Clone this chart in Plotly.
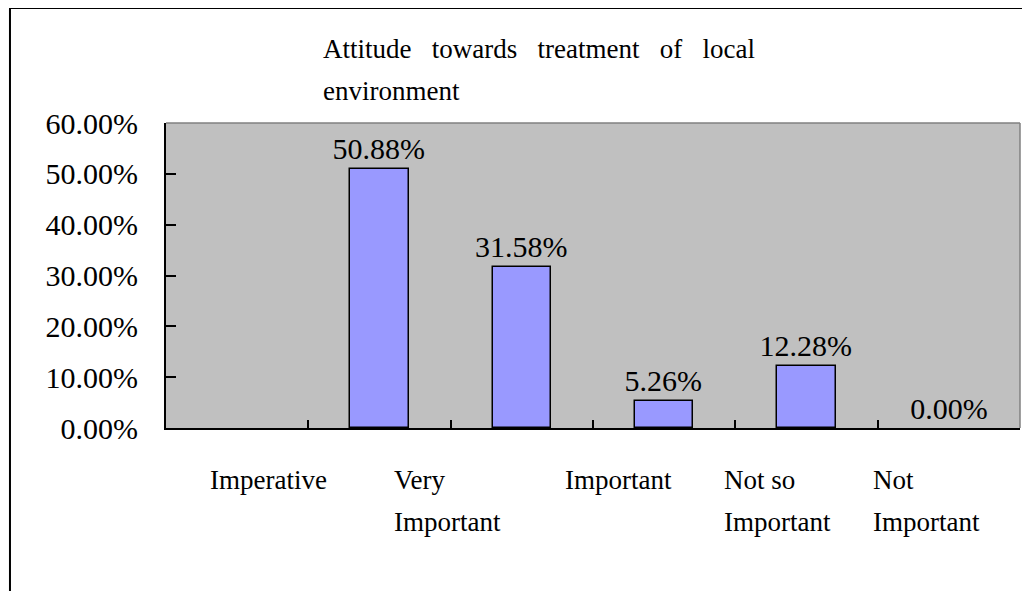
import plotly.graph_objects as go

# survey answers (share of respondents, %)
categories = ["Imperative", "Very\nImportant", "Important", "Not so\nImportant", "Not\nImportant"]
values = [50.88, 31.58, 5.26, 12.28, 0.00]
title_lines = ["Attitude towards treatment of local", "environment"]
y_ticks = [0, 10, 20, 30, 40, 50, 60]

SERIF = "Liberation Serif, Times New Roman, serif"

fig = go.Figure()

# the sheet draws the bars one slot to the right of their labels (first slot is empty)
fig.add_trace(go.Bar(
    x=[i + 1.5 for i in range(len(values))],
    y=values,
    width=0.41,
    marker=dict(color="#9999FF",
                line=dict(color="black", width=[1.5 if v > 0 else 0 for v in values])),
    texttemplate="%{y:.2f}%",
    textposition="outside",
    constraintext="none",
    textfont=dict(family=SERIF, size=30, color="black"),
    cliponaxis=False,
    hoverinfo="skip",
))

# category labels, left aligned like the original sheet
label_x = [0.295, 1.588, 2.789, 3.906, 4.953]
for lx, name in zip(label_x, categories):
    for k, line in enumerate(name.split("\n")):
        fig.add_annotation(
            x=lx, xref="x", y=0, yref="paper",
            text=line, showarrow=False,
            xanchor="left", yanchor="middle",
            yshift=-52 - 42 * k,
            font=dict(family=SERIF, size=27, color="black"),
        )

# title, two lines, first one justified
gap = " \u00a0\u00a0"
fig.add_annotation(
    x=0.1815, xref="paper", y=1.243, yref="paper",
    text=gap.join(title_lines[0].split(" ")), showarrow=False,
    xanchor="left", yanchor="middle",
    font=dict(family=SERIF, size=27, color="black"),
)
fig.add_annotation(
    x=0.1815, xref="paper", y=1.105, yref="paper",
    text=title_lines[1], showarrow=False,
    xanchor="left", yanchor="middle",
    font=dict(family=SERIF, size=27, color="black"),
)

# plot-area frame (grey top/right) and outer chart border
fig.add_shape(type="line", xref="paper", yref="paper", x0=0, x1=1, y0=1, y1=1,
              line=dict(color="#808080", width=1.5))
fig.add_shape(type="line", xref="paper", yref="paper", x0=1, x1=1, y0=0, y1=1,
              line=dict(color="#808080", width=1.5))
fig.add_shape(type="rect", xref="paper", yref="paper",
              x0=-0.1827, x1=1.03, y0=-0.6, y1=1.377,
              line=dict(color="black", width=2), layer="below")

# page body has an 8px margin, so the figure is 8px smaller and shifted
fig.update_layout(
    width=1022,
    height=583,
    margin=dict(l=158, r=10, t=115, b=163),
    plot_bgcolor="#C0C0C0",
    paper_bgcolor="white",
    showlegend=False,
    bargap=0,
    xaxis=dict(
        range=[0, 6],
        tickmode="linear", tick0=0, dtick=1,
        ticks="inside", ticklen=8, tickwidth=2, tickcolor="black",
        showticklabels=False,
        showline=True, linecolor="black", linewidth=2,
        showgrid=False, zeroline=False, fixedrange=True,
    ),
    yaxis=dict(
        range=[0, 60],
        tickmode="array",
        tickvals=y_ticks,
        ticktext=[f"{v:.2f}%" for v in y_ticks],
        ticks="inside", ticklen=10, tickwidth=2, tickcolor="black",
        ticklabelstandoff=20,
        tickfont=dict(family=SERIF, size=30, color="black"),
        showline=True, linecolor="black", linewidth=2,
        showgrid=False, zeroline=False, fixedrange=True,
    ),
)

fig.write_html("out.html")
